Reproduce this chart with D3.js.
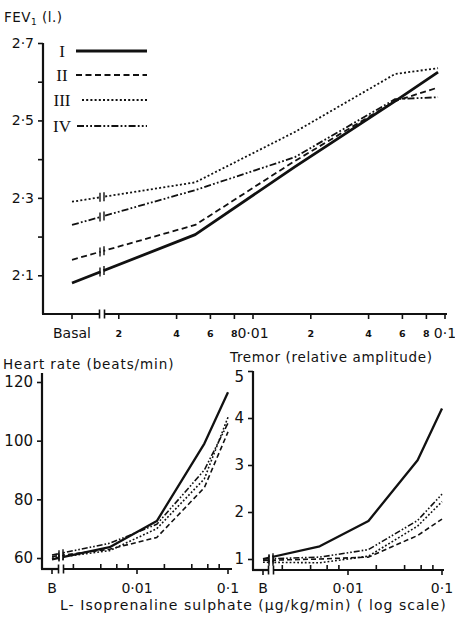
<!DOCTYPE html>
<html><head><meta charset="utf-8">
<script src="https://cdn.jsdelivr.net/npm/d3@7"></script>
<style>
html,body{margin:0;padding:0;background:#fff;}
svg{display:block;}
text{font-family:"DejaVu Sans",sans-serif;fill:#111;}
</style></head>
<body>
<div id="chart"></div>
<script>
// ---------- DATA ----------
const seriesNames = ["I", "II", "III", "IV"];
// doses (µg/kg/min); first value of each series is Basal
const fevDoses = [0.005, 0.0165, 0.055, 0.092];
const fevI   = [2.08, 2.205, 2.38, 2.55, 2.625];
const fevII  = [2.14, 2.23, 2.395, 2.55, 2.585];
const fevIII = [2.29, 2.34, 2.47, 2.62, 2.635];
const fevIV  = [2.23, 2.32, 2.405, 2.555, 2.56];

const doses = [0.005, 0.0165, 0.055, 0.1];
const hrI   = [59.5, 63.7, 72.6, 99, 116.5];
const hrII  = [60.5, 63, 67, 84, 103];
const hrIII = [60, 62.5, 70, 87, 108];
const hrIV  = [61, 65, 71.5, 90, 106];

const trI   = [1.0, 1.27, 1.81, 3.1, 4.2];
const trII  = [0.97, 1.0, 1.04, 1.5, 1.85];
const trIII = [0.93, 0.92, 1.06, 1.7, 2.22];
const trIV  = [1.0, 1.04, 1.2, 1.82, 2.38];

const fevTicks = [2.1, 2.2, 2.3, 2.4, 2.5, 2.6, 2.7];
const fevTickLabels = ["2·1", "", "2·3", "", "2·5", "", "2·7"];
const hrTicks = [60, 80, 100, 120];
const hrTickLabels = ["60", "80", "100", "120"];
const trTicks = [1, 2, 3, 4, 5];
const trTickLabels = ["1", "2", "3", "4", "5"];
const logTicks = [0.002, 0.004, 0.006, 0.008, 0.01, 0.02, 0.04, 0.06, 0.08, 0.1];
const fevLogLabels = ["2", "4", "6", "8", "0·01", "2", "4", "6", "8", "0·1"];
const smallLogLabels = ["", "", "", "", "0·01", "", "", "", "", "0·1"];

// ---------- STYLES ----------
const styles = {
  I:   {dash: null, w: 2.8},
  II:  {dash: "6,3.5", w: 1.8},
  III: {dash: "2,2.2", w: 1.8},
  IV:  {dash: "7,2.2,1.8,2.2,1.8,2.2", w: 1.8}
};
const smallStyles = {
  I:   {dash: null, w: 2.3},
  II:  {dash: "5,3", w: 1.6},
  III: {dash: "1.8,2", w: 1.6},
  IV:  {dash: "6,2,1.6,2,1.6,2", w: 1.6}
};

const W = 455, H = 623;
const svg = d3.select("#chart").append("svg").attr("width", W).attr("height", H);

function drawPanel(cfg) {
  const g = svg.append("g");
  const {xLog, basalX, breakX, y, yAxisX, axisY, xEnd, data, doseArr, st} = cfg;
  const xOf = (i) => i === 0 ? basalX : xLog(doseArr[i - 1]);

  // y axis
  const yAxis = d3.axisLeft(y).tickValues(cfg.yTicks)
    .tickFormat((d, i) => cfg.yTickLabels[i]).tickSize(5).tickSizeOuter(0).tickPadding(4);
  const ya = g.append("g").attr("transform", `translate(${yAxisX},0)`).call(yAxis);
  ya.select(".domain").attr("stroke", "#111").attr("stroke-width", 2.2)
    .attr("d", `M0,${cfg.yTop}V${axisY}`);
  ya.selectAll(".tick line").attr("stroke", "#111").attr("stroke-width", 1.6);
  ya.selectAll(".tick text").style("font-size", cfg.yFont + "px").attr("fill", "#111");
  if (cfg.topLabelDy) ya.selectAll(".tick text").filter((d, i, n) => i === n.length - 1)
    .attr("dy", cfg.topLabelDy);

  // x axis line with break
  g.append("line").attr("x1", yAxisX - 1).attr("x2", breakX - 2.5).attr("y1", axisY).attr("y2", axisY)
    .attr("stroke", "#111").attr("stroke-width", 2.2);
  g.append("line").attr("x1", breakX + 2.5).attr("x2", xEnd).attr("y1", axisY).attr("y2", axisY)
    .attr("stroke", "#111").attr("stroke-width", 2.2);
  [-2.5, 2.5].forEach(o => g.append("line").attr("x1", breakX + o).attr("x2", breakX + o)
    .attr("y1", axisY - 4.5).attr("y2", axisY + 4.5).attr("stroke", "#111").attr("stroke-width", 1.6));

  // x ticks
  const tickPos = [{x: basalX, major: true, label: cfg.basalLabel, big: true}]
    .concat(logTicks.map((t, i) => ({x: xLog(t), major: cfg.logLabels[i] !== "", label: cfg.logLabels[i],
      big: cfg.logLabels[i].length > 1})));
  tickPos.forEach(t => {
    const down = cfg.ticksDown || t.big;
    g.append("line").attr("x1", t.x).attr("x2", t.x)
      .attr("y1", axisY).attr("y2", down ? axisY + 5 : axisY - 5)
      .attr("stroke", "#111").attr("stroke-width", 1.6);
    if (t.label) {
      g.append("text").attr("x", t.x).attr("y", t.big ? cfg.labelY : cfg.labelY - 1)
        .attr("text-anchor", "middle")
        .style("font-size", (t.big ? cfg.xFont : cfg.xSmallFont) + "px")
        .style("font-weight", t.big ? "normal" : "bold")
        .text(t.label);
    }
  });

  // series lines
  const line = d3.line().x(d => d[0]).y(d => d[1]);
  seriesNames.forEach((name, si) => {
    const vals = data[si];
    const pts = vals.map((v, i) => [xOf(i), y(v)]);
    const s = st[name];
    g.append("path").attr("d", line(pts)).attr("fill", "none").attr("stroke", "#111")
      .attr("stroke-width", s.w).attr("stroke-dasharray", s.dash).attr("stroke-linejoin", "round");
    // break marks on the line
    const [x0, y0] = pts[0], [x1, y1] = pts[1];
    const slope = (y1 - y0) / (x1 - x0);
    const yb = y0 + slope * (breakX - x0);
    g.append("line").attr("x1", breakX - 1.5).attr("x2", breakX + 1.5).attr("y1", yb - slope * 1.5)
      .attr("y2", yb + slope * 1.5).attr("stroke", "#fff").attr("stroke-width", s.w + 2);
    [-2, 2].forEach(o => g.append("line").attr("x1", breakX + o).attr("x2", breakX + o)
      .attr("y1", yb + slope * o - cfg.markH).attr("y2", yb + slope * o + cfg.markH)
      .attr("stroke", "#111").attr("stroke-width", 1.4));
  });
  return g;
}

// ---------- TOP PANEL: FEV1 ----------
const yFev = d3.scaleLinear().domain([2.0, 2.7]).range([314, 43]);
const xFev = d3.scaleLog().domain([0.001, 0.1]).range([61, 445]);
drawPanel({
  xLog: xFev, basalX: 72, breakX: 102, y: yFev, yAxisX: 43, axisY: 314, xEnd: 447, yTop: 43,
  data: [fevI, fevII, fevIII, fevIV], doseArr: fevDoses, st: styles,
  yTicks: fevTicks, yTickLabels: fevTickLabels, yFont: 14,
  basalLabel: "Basal", logLabels: fevLogLabels, labelY: 338, xFont: 14, xSmallFont: 9.5,
  ticksDown: true, markH: 4.5
});
svg.append("text").attr("x", 4).attr("y", 22).style("font-size", "13.5px").style("letter-spacing", "0.5px")
  .html('FEV<tspan dy="3" style="font-size:9px">1</tspan><tspan dy="-3"> (l.)</tspan>');

// legend
const legY = [51, 75, 100, 126];
const legX0 = [76, 76, 82, 77];
seriesNames.forEach((name, i) => {
  svg.append("text").attr("x", 62).attr("y", legY[i] + 5.5).attr("text-anchor", "middle")
    .style("font-family", "'Liberation Serif', serif").style("font-size", "17px").text(name);
  svg.append("line").attr("x1", legX0[i]).attr("x2", 147).attr("y1", legY[i]).attr("y2", legY[i])
    .attr("stroke", "#111").attr("stroke-width", styles[name].w).attr("stroke-dasharray", styles[name].dash);
});

// ---------- HEART RATE ----------
const yHr = d3.scaleLinear().domain([60, 120]).range([558, 382]);
const xHr = d3.scaleLog().domain([0.001, 0.1]).range([46, 228]);
drawPanel({
  xLog: xHr, basalX: 52, breakX: 61, y: yHr, yAxisX: 42, axisY: 569, xEnd: 232, yTop: 373,
  data: [hrI, hrII, hrIII, hrIV], doseArr: doses, st: smallStyles,
  yTicks: hrTicks, yTickLabels: hrTickLabels, yFont: 15,
  basalLabel: "B", logLabels: smallLogLabels, labelY: 593, xFont: 14, xSmallFont: 9,
  ticksDown: false, markH: 3.5
});
svg.append("text").attr("x", 3).attr("y", 369).style("font-size", "13.5px").style("letter-spacing", "0.9px")
  .text("Heart rate (beats/min)");

// ---------- TREMOR ----------
const yTr = d3.scaleLinear().domain([1, 5]).range([559, 371]);
const xTr = d3.scaleLog().domain([0.001, 0.1]).range([254, 442]);
drawPanel({
  xLog: xTr, basalX: 263, breakX: 271, y: yTr, yAxisX: 253, axisY: 570, xEnd: 444, yTop: 371,
  data: [trI, trII, trIII, trIV], doseArr: doses, st: smallStyles,
  yTicks: trTicks, yTickLabels: trTickLabels, yFont: 15,
  basalLabel: "B", logLabels: smallLogLabels, labelY: 593, xFont: 14, xSmallFont: 9,
  ticksDown: false, markH: 3.5, topLabelDy: "0.7em"
});
svg.append("text").attr("x", 230).attr("y", 362).style("font-size", "13.5px").style("letter-spacing", "0.65px")
  .text("Tremor (relative amplitude)");

svg.append("text").attr("x", 60).attr("y", 610).style("font-size", "14px").style("letter-spacing", "1.05px")
  .text("L- Isoprenaline sulphate (μg/kg/min) ( log scale)");
</script>
</body></html>
